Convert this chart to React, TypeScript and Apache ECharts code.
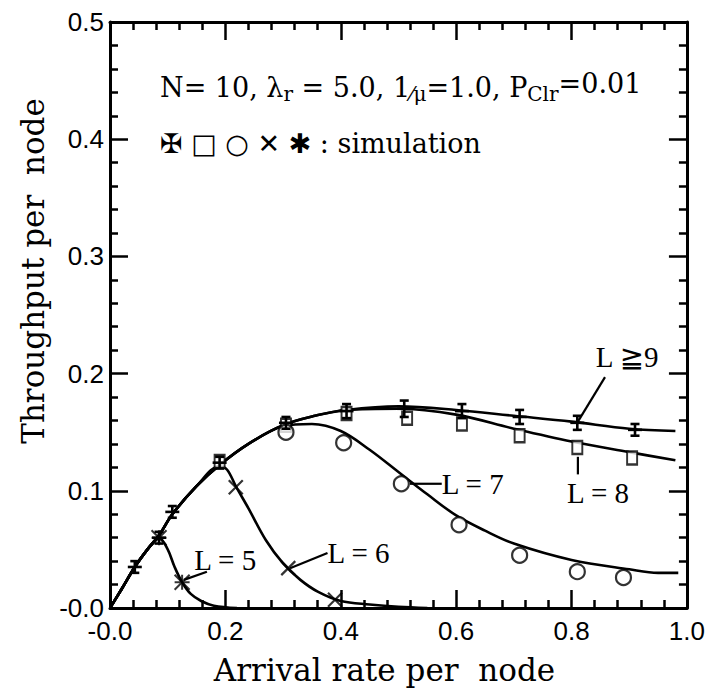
import React, { useEffect, useRef } from "react";
import * as echarts from "echarts";

// ---- axis ticks ----
const xTickValues = [0, 0.2, 0.4, 0.6, 0.8, 1.0];
const xTickLabels = ["-0.0", "0.2", "0.4", "0.6", "0.8", "1.0"];
const yTickValues = [0, 0.1, 0.2, 0.3, 0.4, 0.5];
const yTickLabels = ["-0.0", "0.1", "0.2", "0.3", "0.4", "0.5"];

// ---- analytic curves ----
const curveL9 = [
  [0, 0], [0.02, 0.016], [0.043, 0.035], [0.065, 0.05], [0.085, 0.062], [0.108, 0.08],
  [0.15, 0.104], [0.19, 0.122], [0.24, 0.14], [0.3, 0.156], [0.355, 0.164], [0.41, 0.169],
  [0.5, 0.172], [0.6, 0.169], [0.7, 0.164], [0.8, 0.159], [0.9, 0.153], [0.98, 0.151],
];
const curveL8 = [
  [0, 0], [0.02, 0.016], [0.043, 0.035], [0.065, 0.05], [0.085, 0.062], [0.108, 0.08],
  [0.15, 0.104], [0.19, 0.122], [0.24, 0.14], [0.3, 0.156], [0.355, 0.164], [0.41, 0.169],
  [0.5, 0.17], [0.6, 0.165], [0.7, 0.153], [0.8, 0.142], [0.9, 0.133], [0.98, 0.126],
];
const curveL7 = [
  [0, 0], [0.02, 0.016], [0.043, 0.035], [0.065, 0.05], [0.085, 0.062], [0.108, 0.08],
  [0.15, 0.104], [0.19, 0.122], [0.24, 0.14], [0.3, 0.155], [0.35, 0.157], [0.4, 0.151],
  [0.45, 0.135], [0.5, 0.116], [0.55, 0.097], [0.6, 0.079], [0.65, 0.066], [0.7, 0.055],
  [0.8, 0.041], [0.9, 0.033], [0.95, 0.03], [0.985, 0.03],
];
const curveL6 = [
  [0, 0], [0.02, 0.016], [0.043, 0.035], [0.065, 0.05], [0.085, 0.062], [0.108, 0.08],
  [0.15, 0.104], [0.19, 0.121], [0.203, 0.118], [0.218, 0.104], [0.24, 0.085], [0.27, 0.058],
  [0.3, 0.038], [0.33, 0.024], [0.36, 0.014], [0.4, 0.006], [0.45, 0.003], [0.5, 0.001], [0.55, 0],
];
const curveL5 = [
  [0, 0], [0.02, 0.016], [0.043, 0.035], [0.065, 0.05], [0.085, 0.06], [0.1, 0.05],
  [0.112, 0.035], [0.125, 0.022], [0.14, 0.012], [0.158, 0.006], [0.18, 0.002], [0.22, 0],
];

// ---- simulation points ----
const plusX = [0.043, 0.085, 0.108, 0.19, 0.305, 0.41, 0.51, 0.61, 0.71, 0.81, 0.91];
const plusY = [0.035, 0.06, 0.082, 0.124, 0.158, 0.168, 0.17, 0.168, 0.163, 0.158, 0.152];
const plusErr = [0.005, 0.005, 0.005, 0.005, 0.005, 0.006, 0.007, 0.006, 0.006, 0.006, 0.005];
const squareX = [0.19, 0.305, 0.41, 0.515, 0.61, 0.71, 0.81, 0.905];
const squareY = [0.125, 0.156, 0.166, 0.162, 0.157, 0.147, 0.137, 0.128];
const circleX = [0.305, 0.405, 0.505, 0.605, 0.71, 0.81, 0.89];
const circleY = [0.15, 0.141, 0.106, 0.071, 0.045, 0.031, 0.026];
const crossX = [0.218, 0.309, 0.39];
const crossY = [0.103, 0.034, 0.007];
const starX = [0.085, 0.125];
const starY = [0.06, 0.022];

// ---- curve labels ----
const curveLabels = ["L = 5", "L = 6", "L = 7", "L = 8", "L \u22679"];
const labelAt = [[0.146, 0.041], [0.377, 0.047], [0.575, 0.106], [0.846, 0.098], [0.842, 0.214]];
const labelAlign = ["left", "left", "left", "center", "left"];
const leaderFrom = [[0.128, 0.024], [0.312, 0.034], [0.52, 0.106], [0.811, 0.129], [0.811, 0.159]];
const leaderTo = [[0.168, 0.031], [0.377, 0.047], [0.575, 0.106], [0.811, 0.114], [0.858, 0.197]];

const SERIF = "'DejaVu Serif', 'Liberation Serif', serif";
const LBL = "'Liberation Serif', 'DejaVu Serif', 'DejaVu Sans', serif";
const TICK = "'Liberation Sans', Arial, sans-serif";

function zip(xs: number[], ys: number[]) {
  return xs.map((x, i) => [x, ys[i]]);
}

export default function App() {
  const ref = useRef<HTMLDivElement>(null);
  useEffect(() => {
    if (!ref.current) return;
    const chart = echarts.init(ref.current, null, { renderer: "svg" });

    const fmtX = (v: number) => {
      const i = xTickValues.findIndex((t) => Math.abs(t - v) < 1e-6);
      return i >= 0 ? xTickLabels[i] : "";
    };
    const fmtY = (v: number) => {
      const i = yTickValues.findIndex((t) => Math.abs(t - v) < 1e-6);
      return i >= 0 ? yTickLabels[i] : "";
    };
    const lineStyle = { color: "#000", width: 3 };
    const tickStyle = { color: "#000", width: 2.5 };
    const mkX = (pos: string, labels: boolean) => ({
      type: "value",
      position: pos,
      min: 0,
      max: 1,
      interval: 0.2,
      axisLine: { show: true, onZero: false, lineStyle },
      axisTick: { show: true, inside: true, length: 18, lineStyle: tickStyle },
      minorTick: { show: true, splitNumber: 5, length: 8, lineStyle: tickStyle },
      splitLine: { show: false },
      axisLabel: labels
        ? { show: true, formatter: fmtX, color: "#000", fontFamily: TICK, fontSize: 26, margin: 10 }
        : { show: false },
    });
    const mkY = (pos: string, labels: boolean) => ({
      type: "value",
      position: pos,
      min: 0,
      max: 0.5,
      interval: 0.1,
      axisLine: { show: true, onZero: false, lineStyle },
      axisTick: { show: true, inside: true, length: 18, lineStyle: tickStyle },
      minorTick: { show: true, splitNumber: 5, length: 8, lineStyle: tickStyle },
      splitLine: { show: false },
      axisLabel: labels
        ? { show: true, formatter: fmtY, color: "#000", fontFamily: TICK, fontSize: 26, margin: 6 }
        : { show: false },
    });

    const xAxisBottom: any = mkX("bottom", true);
    xAxisBottom.name = "Arrival rate per  node";
    xAxisBottom.nameLocation = "middle";
    xAxisBottom.nameGap = 46;
    xAxisBottom.nameTextStyle = { fontFamily: SERIF, fontSize: 31, color: "#000", padding: [0, 28, 0, 0] };
    const yAxisLeft: any = mkY("left", true);
    yAxisLeft.name = "Throughput per  node";
    yAxisLeft.nameLocation = "middle";
    yAxisLeft.nameGap = 62;
    yAxisLeft.nameTextStyle = { fontFamily: SERIF, fontSize: 31, color: "#000", padding: [0, 0, 0, 88] };

    const curve = (data: number[][]) => ({
      type: "line",
      data,
      smooth: 0.35,
      showSymbol: false,
      symbol: "none",
      lineStyle: { color: "#000", width: 2.6 },
      z: 2,
      silent: true,
    });

    const plusData = plusX.map((x, i) => [x, plusY[i], plusErr[i]]);

    chart.setOption({
      animation: false,
      backgroundColor: "#fff",
      grid: { left: 110, top: 22, width: 584, height: 586, containLabel: false },
      xAxis: [xAxisBottom, mkX("top", false)],
      yAxis: [yAxisLeft, mkY("right", false)],
      series: [
        curve(curveL9),
        curve(curveL8),
        curve(curveL7),
        curve(curveL6),
        curve(curveL5),
        {
          type: "scatter",
          data: zip(squareX, squareY),
          symbol: "rect",
          symbolSize: [10, 13],
          itemStyle: { color: "#fff", borderColor: "#000", borderWidth: 2.2 },
          z: 4,
        },
        {
          type: "scatter",
          data: zip(circleX, circleY),
          symbol: "circle",
          symbolSize: 15,
          itemStyle: { color: "#fff", borderColor: "#000", borderWidth: 2.2 },
          z: 4,
        },
        {
          type: "scatter",
          data: zip(crossX, crossY),
          symbol: "path://M0,0 L10,10 M10,0 L0,10",
          symbolSize: 14,
          itemStyle: { color: "none", borderColor: "#000", borderWidth: 2.2 },
          z: 4,
        },
        {
          type: "scatter",
          data: zip(starX, starY),
          symbol: "path://M0,0 L10,10 M10,0 L0,10 M5,0 L5,10 M0,5 L10,5",
          symbolSize: 15,
          itemStyle: { color: "none", borderColor: "#000", borderWidth: 2 },
          z: 4,
        },
        {
          type: "custom",
          data: plusData,
          encode: { x: 0, y: 1 },
          z: 5,
          renderItem: (_p: any, api: any) => {
            const x = api.value(0);
            const y = api.value(1);
            const e = api.value(2);
            const c = api.coord([x, y]);
            const hi = api.coord([x, y + e]);
            const lo = api.coord([x, y - e]);
            const st = { stroke: "#000", lineWidth: 2.6 };
            return {
              type: "group",
              children: [
                { type: "line", shape: { x1: c[0], y1: hi[1], x2: c[0], y2: lo[1] }, style: st },
                { type: "line", shape: { x1: c[0] - 4.5, y1: hi[1], x2: c[0] + 4.5, y2: hi[1] }, style: st },
                { type: "line", shape: { x1: c[0] - 4.5, y1: lo[1], x2: c[0] + 4.5, y2: lo[1] }, style: st },
                { type: "line", shape: { x1: c[0] - 7, y1: c[1], x2: c[0] + 7, y2: c[1] }, style: st },
              ],
            };
          },
        },
      ],
    });

    // annotations anchored to data coordinates
    const px = (p: number[]) => chart.convertToPixel({ xAxisIndex: 0, yAxisIndex: 0 }, p) as number[];
    const graphics: any[] = [];
    curveLabels.forEach((t, i) => {
      const a = px(leaderFrom[i]);
      const b = px(leaderTo[i]);
      graphics.push({
        type: "line",
        shape: { x1: a[0], y1: a[1], x2: b[0], y2: b[1] },
        style: { stroke: "#000", lineWidth: 2.2 },
        z: 10,
      });
      const p = px(labelAt[i]);
      graphics.push({
        type: "text",
        x: p[0],
        y: p[1],
        style: {
          text: t,
          fontFamily: LBL,
          fontSize: 29,
          fill: "#000",
          align: labelAlign[i],
          verticalAlign: "middle",
        },
        z: 10,
      });
    });
    graphics.push({
      type: "text",
      x: 160,
      y: 87,
      style: {
        text: "{a|N= 10, \u03bb}{s|r}{a| = 5.0, 1}{s|\u2044\u03bc}{a|=1.0, P}{s|Clr}{u|=0.01}",
        verticalAlign: "middle",
        rich: {
          a: { fontFamily: SERIF, fontSize: 27, fill: "#000", verticalAlign: "middle" },
          s: { fontFamily: SERIF, fontSize: 20, fill: "#000", padding: [14, 0, 0, 0] },
          u: { fontFamily: SERIF, fontSize: 27, fill: "#000", padding: [0, 0, 8, 0] },
        },
      },
      z: 10,
    });
    graphics.push({
      type: "text",
      x: 160,
      y: 143,
      style: {
        text: "\u2720 \u25a1 \u25cb \u2715 \u2731 : simulation",
        fontFamily: "'DejaVu Serif', 'DejaVu Sans', serif",
        fontSize: 27,
        fill: "#000",
        verticalAlign: "middle",
      },
      z: 10,
    });
    chart.setOption({ graphic: graphics });

    return () => chart.dispose();
  }, []);
  return <div ref={ref} style={{ width: 708, height: 700, position: "absolute", left: 0, top: 0 }} />;
}
